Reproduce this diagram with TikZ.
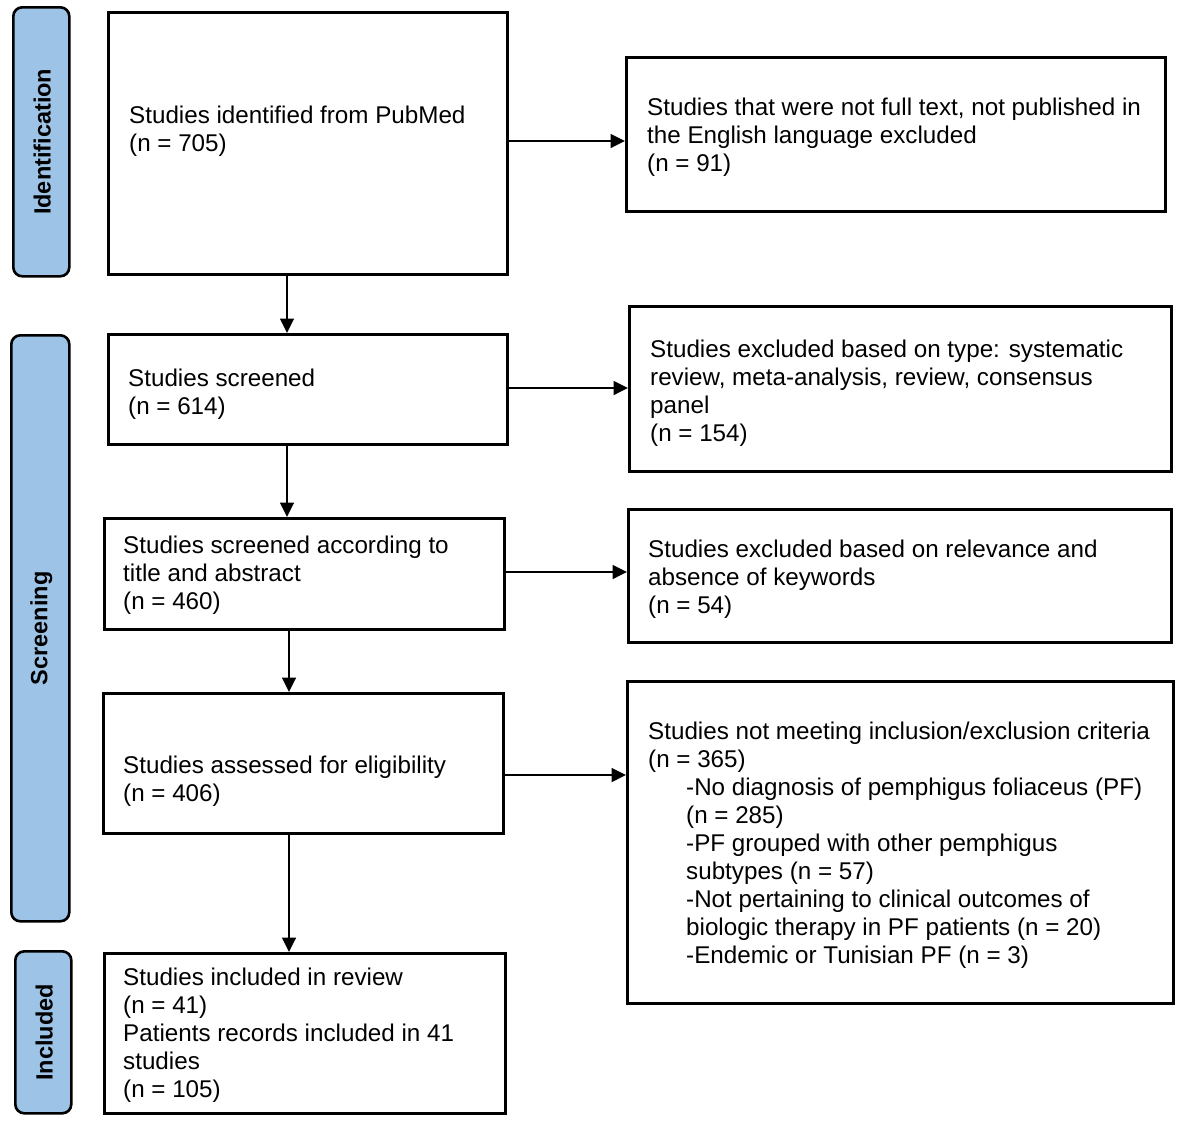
\documentclass[tikz,border=0pt]{standalone}
\usepackage{fontspec}
\setmainfont{Liberation Sans}
\usetikzlibrary{arrows.meta}
\definecolor{sideblue}{RGB}{157,195,230}
\begin{document}
\begin{tikzpicture}[x=1pt,y=-1pt,
  box/.style={draw, line width=2.6pt, inner sep=0pt, anchor=north west},
  side/.style={draw, line width=2.6pt, fill=sideblue, rounded corners=9pt, inner sep=0pt, anchor=north west},
  txt/.style={anchor=north west, inner sep=0pt, align=left, font=\fontsize{24.2}{28}\selectfont},
  lab/.style={rotate=90, font=\bfseries\fontsize{23.5}{27}\selectfont, inner sep=0pt},
  arr/.style={line width=1.8pt, -{Triangle[length=14.5pt,width=14pt]}}]
\useasboundingbox (0,0) rectangle (1181,1120);
% side labels
\node[side, minimum width=56pt, minimum height=269pt] (s1) at (12,6) {};
\node[side, minimum width=58pt, minimum height=586pt] (s2) at (10,334) {};
\node[side, minimum width=56pt, minimum height=162pt] (s3) at (14,950) {};
\node[lab] (l1) at ([xshift=1pt]s1.center) {Identification};
\node[lab] (l2) at ([xshift=1pt]s2.center) {Screening};
\node[lab] (l3) at ([xshift=1pt]s3.center) {Included};
% left boxes
\node[box, minimum width=399pt, minimum height=262pt] (b1) at (107,11) {};
\node[box, minimum width=399pt, minimum height=110pt] (b2) at (107,333) {};
\node[box, minimum width=400pt, minimum height=111pt] (b3) at (103,517) {};
\node[box, minimum width=400pt, minimum height=140pt] (b4) at (102,692) {};
\node[box, minimum width=401pt, minimum height=160pt] (b5) at (103,952) {};
% right boxes
\node[box, minimum width=539pt, minimum height=154pt] (r1) at (625,56) {};
\node[box, minimum width=542pt, minimum height=165pt] (r2) at (628,305) {};
\node[box, minimum width=543pt, minimum height=133pt] (r3) at (627,508) {};
\node[box, minimum width=546pt, minimum height=322pt] (r4) at (626,680) {};
% texts
\node[txt] (t1) at (129,105.5) {Studies identified from PubMed\\(n = 705)};
\node[txt] (t2) at (128,368.5) {Studies screened\\(n = 614)};
\node[txt] (t3) at (123,535.5) {Studies screened according to\\title and abstract\\(n = 460)};
\node[txt] (t4) at (123,755.5) {Studies assessed for eligibility\\(n = 406)};
\node[txt] (t5) at (123,967.5) {Studies included in review\\(n = 41)\\Patients records included in 41\\studies\\(n = 105)};
\node[txt] (u1) at (647,97.5) {Studies that were not full text, not published in\\the English language excluded\\(n = 91)};
\node[txt] (u2) at (650,339.5) {Studies excluded based on type: systematic\\review, meta-analysis, review, consensus\\panel\\(n = 154)};
\node[txt] (u3) at (648,539.5) {Studies excluded based on relevance and\\absence of keywords\\(n = 54)};
\node[txt] (u4) at (648,721.5) {Studies not meeting inclusion/exclusion criteria\\(n = 365)\\
\hspace*{38pt}-No diagnosis of pemphigus foliaceus (PF)\\
\hspace*{38pt}(n = 285)\\
\hspace*{38pt}-PF grouped with other pemphigus\\
\hspace*{38pt}subtypes (n = 57)\\
\hspace*{38pt}-Not pertaining to clinical outcomes of\\
\hspace*{38pt}biologic therapy in PF patients (n = 20)\\
\hspace*{38pt}-Endemic or Tunisian PF (n = 3)};
% horizontal arrows
\draw[arr] (b1.east |- 0,141) -- (r1.west |- 0,141);
\draw[arr] (b2.east |- 0,388) -- (r2.west |- 0,388);
\draw[arr] (b3.east |- 0,572) -- (r3.west |- 0,572);
\draw[arr] (b4.east |- 0,775) -- (r4.west |- 0,775);
% vertical arrows
\draw[arr] (b1.south -| 287,0) -- (b2.north -| 287,0);
\draw[arr] (b2.south -| 287,0) -- (b3.north -| 287,0);
\draw[arr] (b3.south -| 289,0) -- (b4.north -| 289,0);
\draw[arr] (b4.south -| 289,0) -- (b5.north -| 289,0);
\end{tikzpicture}
\end{document}
